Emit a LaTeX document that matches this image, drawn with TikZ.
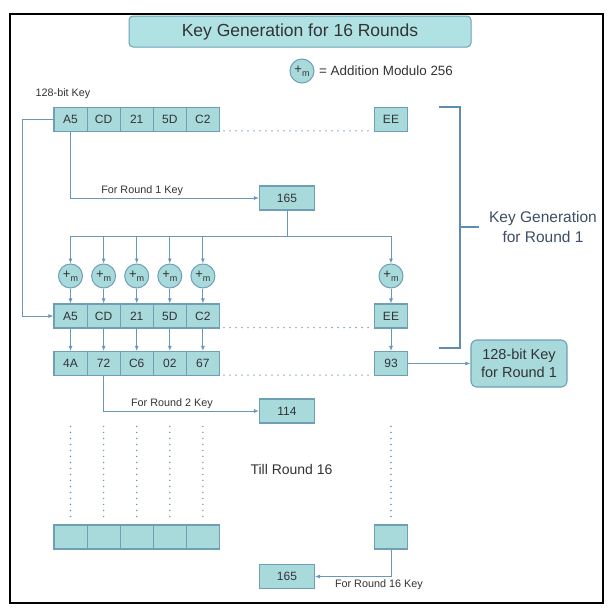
\documentclass[tikz,border=0pt]{standalone}
\usepackage{fontspec}
\setmainfont{Liberation Sans}
\usetikzlibrary{arrows.meta}
\usetikzlibrary{calc}
\definecolor{CellFill}{HTML}{A8DADC}
\definecolor{TitleFill}{HTML}{B0E2E4}
\definecolor{CellLine}{HTML}{6E9FB5}
\definecolor{LinkBlue}{HTML}{6A97B8}
\definecolor{BracketBlue}{HTML}{5F8DAD}
\definecolor{TextGray}{HTML}{333333}
\definecolor{LabelBlue}{HTML}{3D4F66}
\tikzset{
	cell/.style={ % Egenskaber for hver byte
			draw=CellLine,
			fill=CellFill,
			line width=1.1pt,
			minimum width=33.1pt,
			minimum height=24pt,
			inner sep=0pt,
			text=TextGray,
			font=\fontsize{12}{14}\selectfont
		},
	keybox/.style={cell, minimum width=55pt},
	modadd/.style={ % additions-cirkler
			circle,
			draw=CellLine,
			fill=CellFill,
			line width=1pt,
			minimum size=24pt,
			inner sep=0pt,
			text=TextGray,
			font=\fontsize{13}{14}\selectfont
		},
	link/.style={draw=LinkBlue, line width=0.9pt},
	dots/.style={draw=LinkBlue, line width=1.6pt, line cap=round, dash pattern=on 0pt off 6pt},
	every edge/.style={draw=LinkBlue, line width=0.9pt},
	small label/.style={text=TextGray, font=\fontsize{10.8}{12}\selectfont, inner sep=1pt}
}
\newcommand{\addm}{+\raisebox{-0.5ex}{\fontsize{9}{9}\selectfont m}}

\begin{document}
\begin{tikzpicture}[x=1pt, y=-1pt, >={Latex[length=5pt, width=4pt]}]
	\useasboundingbox (0,0) rectangle (614,613);
	\draw[line width=2pt] (10,14) rectangle (603,603);

	% Nodes
	\node (title) [draw=CellLine, fill=TitleFill, line width=1pt, rounded corners=4pt, minimum width=342pt, minimum height=31pt, text=TextGray, font=\fontsize{17.5}{19}\selectfont] at (300,31.5) {Key Generation for 16 Rounds};
	\node (legend) [modadd] at (302,71) {\addm};
	\node (legendtext) [anchor=west, text=TextGray, font=\fontsize{13.4}{15}\selectfont, inner sep=0pt] at (319,71) {= Addition Modulo 256};
	\node (keylabel) [small label] at (63,94) {128-bit Key};

	\node (r1c1) [cell] at (70.5,119.3) {A5};
	\node (r1c2) [cell] at (103.6,119.3) {CD};
	\node (r1c3) [cell] at (136.7,119.3) {21};
	\node (r1c4) [cell] at (169.8,119.3) {5D};
	\node (r1c5) [cell] at (202.9,119.3) {C2};
	\node (r1c6) [cell] at (391,119.3) {EE};

	\node (k1) [keybox] at (287,198) {165};
	\coordinate (bus) at (287,236);

	\node (m1) [modadd] at (70.5,276) {\addm};
	\node (m2) [modadd] at (103.6,276) {\addm};
	\node (m3) [modadd] at (136.7,276) {\addm};
	\node (m4) [modadd] at (169.8,276) {\addm};
	\node (m5) [modadd] at (202.9,276) {\addm};
	\node (m6) [modadd] at (391,276) {\addm};

	\node (r2c1) [cell] at (70.5,316) {A5};
	\node (r2c2) [cell] at (103.6,316) {CD};
	\node (r2c3) [cell] at (136.7,316) {21};
	\node (r2c4) [cell] at (169.8,316) {5D};
	\node (r2c5) [cell] at (202.9,316) {C2};
	\node (r2c6) [cell] at (391,316) {EE};

	\node (r3c1) [cell] at (70.5,363.5) {4A};
	\node (r3c2) [cell] at (103.6,363.5) {72};
	\node (r3c3) [cell] at (136.7,363.5) {C6};
	\node (r3c4) [cell] at (169.8,363.5) {02};
	\node (r3c5) [cell] at (202.9,363.5) {67};
	\node (r3c6) [cell] at (391,363.5) {93};

	\node (round1) [draw=CellLine, fill=CellFill, line width=1.1pt, rounded corners=6pt, minimum width=96pt, minimum height=47pt, align=center, text=TextGray, font=\fontsize{14.5}{17.5}\selectfont] at (519,363.5) {128-bit Key\\for Round 1};
	\node (k2) [keybox] at (287,411) {114};

	\node (till) [text=TextGray, font=\fontsize{14}{16}\selectfont] at (291.5,469) {Till Round 16};

	\node (r4c1) [cell] at (70.5,537) {};
	\node (r4c2) [cell] at (103.6,537) {};
	\node (r4c3) [cell] at (136.7,537) {};
	\node (r4c4) [cell] at (169.8,537) {};
	\node (r4c5) [cell] at (202.9,537) {};
	\node (r4c6) [cell] at (391,537) {};

	\node (k16) [keybox] at (287,576.5) {165};

	% Bracket
	\draw[draw=BracketBlue, line width=1.6pt] (439,107) -- (460,107) -- (460,348) -- (439,348);
	\draw[draw=BracketBlue, line width=1.6pt] (460,227) -- (479,227);
	\node (roundlabel) [align=center, text=LabelBlue, font=\fontsize{15.5}{20}\selectfont] at (543,227) {Key Generation\\for Round 1};

	% Dotted rows
	\draw[dots] ($(r1c5.south east)+(4,-1)$) -- ($(r1c6.south west)+(-2,-1)$);
	\draw[dots] ($(r2c5.south east)+(4,-1)$) -- ($(r2c6.south west)+(-2,-1)$);
	\draw[dots] ($(r3c5.south east)+(4,-1)$) -- ($(r3c6.south west)+(-2,-1)$);

	% Dotted columns
	\draw[dots] (r4c1.north) ++(0,-8) -- ++(0,-90);
	\draw[dots] (r4c2.north) ++(0,-8) -- ++(0,-90);
	\draw[dots] (r4c3.north) ++(0,-8) -- ++(0,-90);
	\draw[dots] (r4c4.north) ++(0,-8) -- ++(0,-90);
	\draw[dots] (r4c5.north) ++(0,-8) -- ++(0,-90);
	\draw[dots] (r4c6.north) ++(0,-8) -- ++(0,-90);

	% Links
	\draw[link, ->] (r1c1.west) -- ++(-31,0) |- (r2c1.west);
	\draw[link, ->] (r1c1.south) |- node[small label, pos=0.69, above=1pt] {For Round 1 Key} (k1.west);
	\draw[link] (k1.south) -- (bus);
	\draw[link, ->] (bus) -| (m1.north);
	\draw[link, ->] (bus) -| (m2.north);
	\draw[link, ->] (bus) -| (m3.north);
	\draw[link, ->] (bus) -| (m4.north);
	\draw[link, ->] (bus) -| (m5.north);
	\draw[link, ->] (bus) -| (m6.north);

	\path[->] (m1) edge (r2c1);
	\path[->] (m2) edge (r2c2);
	\path[->] (m3) edge (r2c3);
	\path[->] (m4) edge (r2c4);
	\path[->] (m5) edge (r2c5);
	\path[->] (m6) edge (r2c6);

	\path[->] (r2c1) edge (r3c1);
	\path[->] (r2c2) edge (r3c2);
	\path[->] (r2c3) edge (r3c3);
	\path[->] (r2c4) edge (r3c4);
	\path[->] (r2c5) edge (r3c5);
	\path[->] (r2c6) edge (r3c6);

	\path[->] (r3c6) edge (round1);
	\draw[link, ->] (r3c2.south) |- node[small label, pos=0.72, above=1pt] {For Round 2 Key} (k2.west);
	\draw[link, ->] (r4c6.south) |- node[small label, pos=0.58, below=2pt] {For Round 16 Key} (k16.east);

\end{tikzpicture}
\end{document}
